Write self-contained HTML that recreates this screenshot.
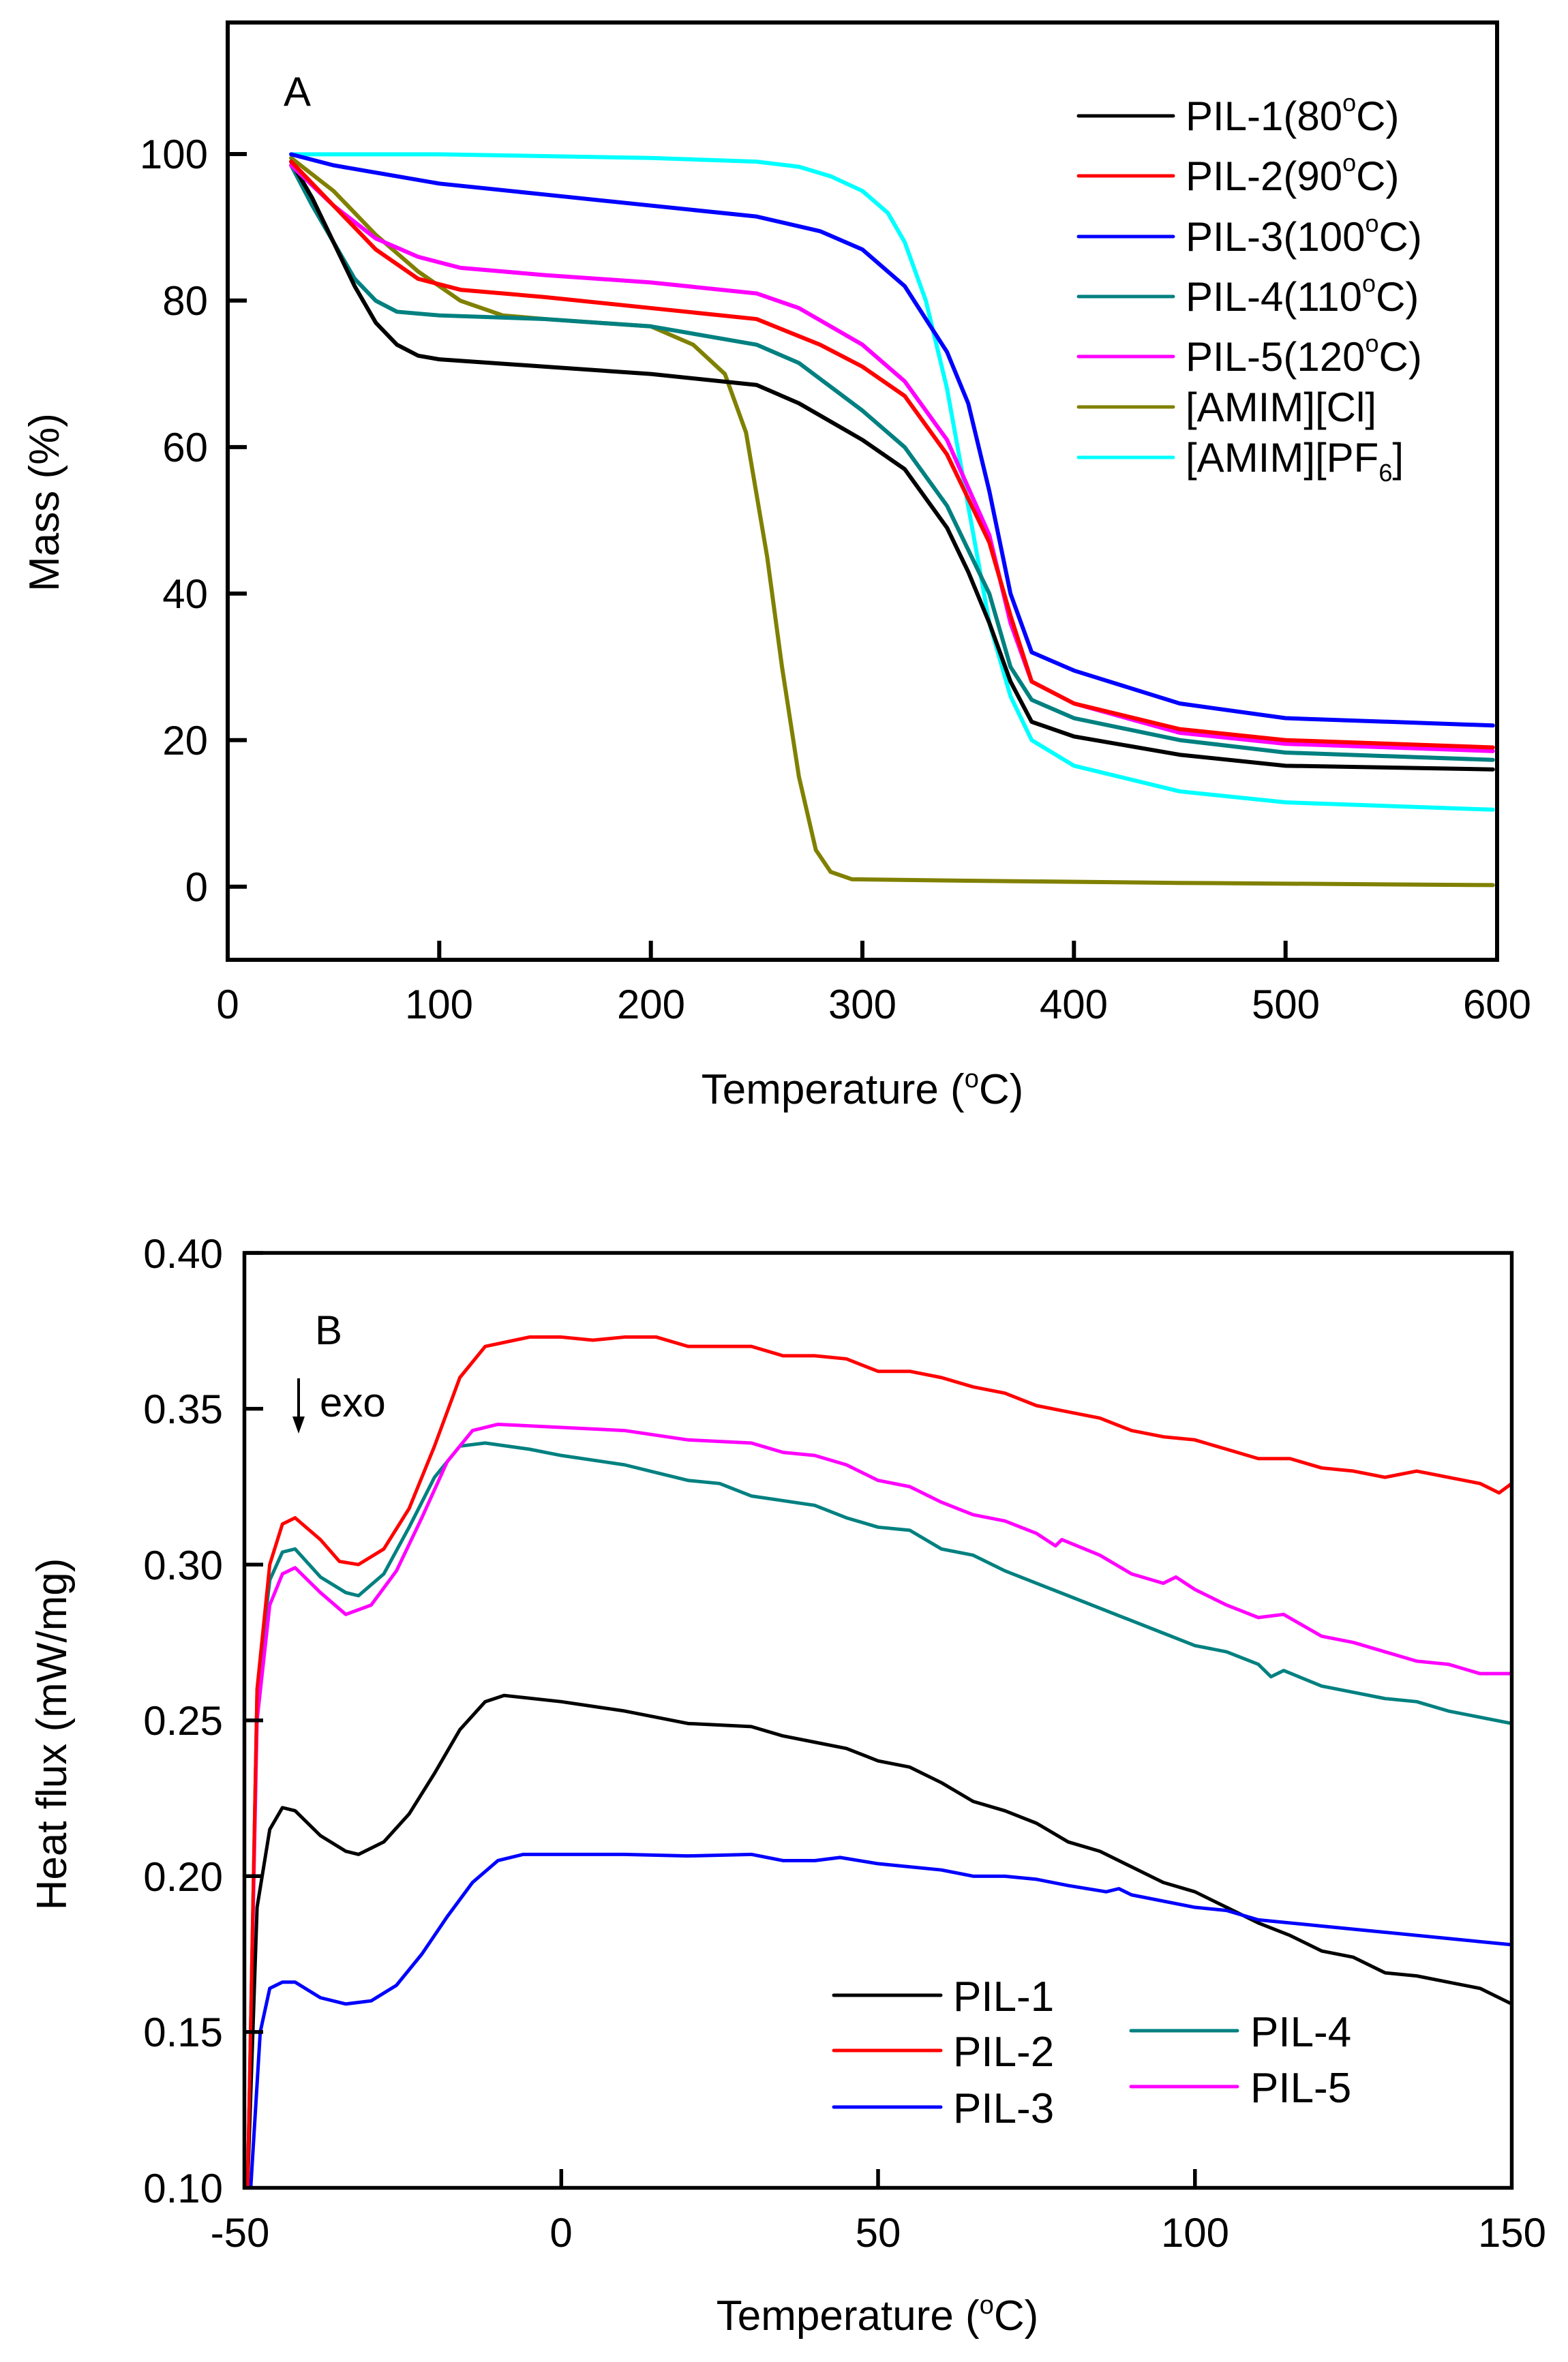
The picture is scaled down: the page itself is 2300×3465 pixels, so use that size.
<!DOCTYPE html>
<html><head><meta charset="utf-8"><style>
html,body{margin:0;padding:0;background:#fff;}
svg{display:block;font-family:"Liberation Sans",Arial,sans-serif;}
</style></head><body>
<svg width="2300" height="3465" viewBox="0 0 2300 3465" xmlns="http://www.w3.org/2000/svg">
<rect width="2300" height="3465" fill="#fff"/>

<!-- ================= TOP PLOT ================= -->
<svg x="334" y="33" width="1862" height="1375" viewBox="0 -118 600 128" preserveAspectRatio="none" overflow="hidden">
<g fill="none" stroke-width="6" stroke-linejoin="round" stroke-linecap="round">
<polyline vector-effect="non-scaling-stroke" stroke="#808000" points="30,-99.5 50,-95 70,-89 90,-84 110,-80 130,-78 150,-77.5 200,-76.5 220,-74 235,-70 245,-62 255,-45 262,-30 270,-15 278,-5 285,-2 295,-1 350,-0.8 450,-0.5 598,-0.2"/>
<polyline vector-effect="non-scaling-stroke" stroke="#00ffff" points="30,-100 100,-100 200,-99.5 250,-99 270,-98.3 285,-97 300,-95 312,-92 320,-88 330,-80 340,-68 350,-52 360,-36 370,-26 380,-20 400,-16.5 450,-13 500,-11.5 598,-10.5"/>
<polyline vector-effect="non-scaling-stroke" stroke="#008080" points="30,-98.5 40,-93 50,-88 60,-83 70,-80 80,-78.5 100,-78 150,-77.5 200,-76.5 250,-74 270,-71.5 300,-65 320,-60 340,-52 360,-40 370,-30 380,-25.5 400,-23 450,-20 500,-18.3 598,-17.3"/>
<polyline vector-effect="non-scaling-stroke" stroke="#000000" points="30,-99 40,-94 50,-88 60,-82 70,-77 80,-74 90,-72.5 100,-72 150,-71 200,-70 250,-68.5 270,-66 300,-61 320,-57 340,-49 350,-43 360,-36 370,-28 380,-22.5 400,-20.5 450,-18 500,-16.5 598,-16"/>
<polyline vector-effect="non-scaling-stroke" stroke="#ff00ff" points="30,-98.5 50,-93 70,-88.5 90,-86 110,-84.5 150,-83.5 200,-82.5 250,-81 270,-79 300,-74 320,-69 340,-61 360,-48 370,-36 380,-28 400,-25 450,-21 500,-19.5 598,-18.5"/>
<polyline vector-effect="non-scaling-stroke" stroke="#ff0000" points="30,-99 50,-93 70,-87 90,-83 110,-81.5 150,-80.5 200,-79 250,-77.5 280,-74 300,-71 320,-67 340,-59 360,-47 370,-37 380,-28 400,-25 450,-21.5 500,-20 598,-19"/>
<polyline vector-effect="non-scaling-stroke" stroke="#0000ff" points="30,-100 50,-98.5 100,-96 150,-94.5 200,-93 250,-91.5 280,-89.5 300,-87 320,-82 340,-73 350,-66 360,-54 370,-40 380,-32 400,-29.5 450,-25 500,-23 598,-22"/>
</g>
</svg>
<rect x="334" y="33" width="1862" height="1375" fill="none" stroke="#000" stroke-width="6"/>
<g stroke="#000" stroke-width="6">
<line x1="334" y1="1300.7" x2="362" y2="1300.7"/>
<line x1="334" y1="1085.8" x2="362" y2="1085.8"/>
<line x1="334" y1="870.8" x2="362" y2="870.8"/>
<line x1="334" y1="655.9" x2="362" y2="655.9"/>
<line x1="334" y1="440.9" x2="362" y2="440.9"/>
<line x1="334" y1="226" x2="362" y2="226"/>
<line x1="644.3" y1="1408" x2="644.3" y2="1380"/>
<line x1="954.7" y1="1408" x2="954.7" y2="1380"/>
<line x1="1265" y1="1408" x2="1265" y2="1380"/>
<line x1="1575.3" y1="1408" x2="1575.3" y2="1380"/>
<line x1="1885.7" y1="1408" x2="1885.7" y2="1380"/>
</g>
<g font-size="60" fill="#000" text-anchor="end">
<text x="305" y="1322">0</text>
<text x="305" y="1107">20</text>
<text x="305" y="892">40</text>
<text x="305" y="677">60</text>
<text x="305" y="462">80</text>
<text x="305" y="247">100</text>
</g>
<g font-size="60" fill="#000" text-anchor="middle">
<text x="334" y="1494">0</text>
<text x="644" y="1494">100</text>
<text x="955" y="1494">200</text>
<text x="1265" y="1494">300</text>
<text x="1575" y="1494">400</text>
<text x="1886" y="1494">500</text>
<text x="2196" y="1494">600</text>
<text x="1265" y="1619" font-size="62">Temperature (<tspan font-size="38" dy="-24">o</tspan><tspan dy="24">C)</tspan></text>
</g>
<text transform="translate(86,737) rotate(-90)" text-anchor="middle" font-size="62" fill="#000">Mass (%)</text>
<text x="416" y="155" font-size="60" fill="#000">A</text>
<g stroke-width="5" stroke-linecap="round">
<line x1="1582" y1="170" x2="1721" y2="170" stroke="#000"/>
<line x1="1582" y1="258" x2="1721" y2="258" stroke="#ff0000"/>
<line x1="1582" y1="347" x2="1721" y2="347" stroke="#0000ff"/>
<line x1="1582" y1="435" x2="1721" y2="435" stroke="#008080"/>
<line x1="1582" y1="523" x2="1721" y2="523" stroke="#ff00ff"/>
<line x1="1582" y1="597" x2="1721" y2="597" stroke="#808000"/>
<line x1="1582" y1="671" x2="1721" y2="671" stroke="#00ffff"/>
</g>
<g font-size="60" fill="#000">
<text x="1739" y="191">PIL-1(80<tspan font-size="36" dy="-28">o</tspan><tspan dy="28">C)</tspan></text>
<text x="1739" y="279">PIL-2(90<tspan font-size="36" dy="-28">o</tspan><tspan dy="28">C)</tspan></text>
<text x="1739" y="368">PIL-3(100<tspan font-size="36" dy="-28">o</tspan><tspan dy="28">C)</tspan></text>
<text x="1739" y="456">PIL-4(110<tspan font-size="36" dy="-28">o</tspan><tspan dy="28">C)</tspan></text>
<text x="1739" y="544">PIL-5(120<tspan font-size="36" dy="-28">o</tspan><tspan dy="28">C)</tspan></text>
<text x="1739" y="618">[AMIM][Cl]</text>
<text x="1739" y="692">[AMIM][PF<tspan font-size="36" dy="14">6</tspan><tspan dy="-14">]</tspan></text>
</g>

<!-- ================= BOTTOM PLOT ================= -->
<svg x="358.5" y="1838" width="1859" height="1371.5" viewBox="-50 -0.40 200 0.30" preserveAspectRatio="none" overflow="hidden">
<g fill="none" stroke-width="5" stroke-linejoin="round" stroke-linecap="round">
<polyline vector-effect="non-scaling-stroke" stroke="#008080" points="-49.5,-0.10 -48,-0.26 -46,-0.295 -44,-0.304 -42,-0.305 -38,-0.296 -34,-0.291 -32,-0.290 -28,-0.297 -24,-0.312 -20,-0.328 -16,-0.338 -12,-0.339 -5,-0.337 0,-0.335 10,-0.332 20,-0.327 25,-0.326 30,-0.322 40,-0.319 45,-0.315 50,-0.312 55,-0.311 60,-0.305 65,-0.303 70,-0.298 80,-0.290 90,-0.282 95,-0.278 100,-0.274 105,-0.272 110,-0.268 112,-0.264 114,-0.266 120,-0.261 125,-0.259 130,-0.257 135,-0.256 140,-0.253 150,-0.249"/>
<polyline vector-effect="non-scaling-stroke" stroke="#ff00ff" points="-49.5,-0.10 -48,-0.25 -46,-0.287 -44,-0.297 -42,-0.299 -38,-0.291 -34,-0.284 -30,-0.287 -26,-0.298 -22,-0.315 -18,-0.333 -14,-0.343 -10,-0.345 0,-0.344 10,-0.343 20,-0.340 30,-0.339 35,-0.336 40,-0.335 45,-0.332 50,-0.327 55,-0.325 60,-0.320 65,-0.316 70,-0.314 75,-0.310 78,-0.306 79,-0.308 85,-0.303 90,-0.297 95,-0.294 97,-0.296 100,-0.292 105,-0.287 110,-0.283 114,-0.284 120,-0.277 125,-0.275 130,-0.272 135,-0.269 140,-0.268 145,-0.265 150,-0.265"/>
<polyline vector-effect="non-scaling-stroke" stroke="#000000" points="-49.5,-0.10 -48,-0.19 -46,-0.215 -44,-0.222 -42,-0.221 -38,-0.213 -34,-0.208 -32,-0.207 -28,-0.211 -24,-0.22 -20,-0.233 -16,-0.247 -12,-0.256 -9,-0.258 0,-0.256 10,-0.253 20,-0.249 30,-0.248 35,-0.245 40,-0.243 45,-0.241 50,-0.237 55,-0.235 60,-0.230 65,-0.224 70,-0.221 75,-0.217 80,-0.211 85,-0.208 90,-0.203 95,-0.198 100,-0.195 105,-0.190 110,-0.185 115,-0.181 120,-0.176 125,-0.174 130,-0.169 135,-0.168 140,-0.166 145,-0.164 150,-0.159"/>
<polyline vector-effect="non-scaling-stroke" stroke="#0000ff" points="-49,-0.10 -47.5,-0.15 -46,-0.164 -44,-0.166 -42,-0.166 -38,-0.161 -34,-0.159 -30,-0.160 -26,-0.165 -22,-0.175 -18,-0.187 -14,-0.198 -10,-0.205 -6,-0.207 0,-0.207 10,-0.207 20,-0.2065 30,-0.207 35,-0.205 40,-0.205 44,-0.206 50,-0.204 60,-0.202 65,-0.200 70,-0.200 75,-0.199 80,-0.197 86,-0.195 88,-0.196 90,-0.194 100,-0.19 105,-0.189 110,-0.186 120,-0.184 130,-0.182 140,-0.18 145,-0.179 150,-0.178"/>
<polyline vector-effect="non-scaling-stroke" stroke="#ff0000" points="-49.5,-0.10 -48,-0.26 -46,-0.30 -44,-0.313 -42,-0.315 -38,-0.308 -35,-0.301 -32,-0.300 -28,-0.305 -24,-0.318 -20,-0.338 -16,-0.360 -12,-0.370 -5,-0.373 0,-0.373 5,-0.372 10,-0.373 15,-0.373 20,-0.370 30,-0.370 35,-0.367 40,-0.367 45,-0.366 50,-0.362 55,-0.362 60,-0.360 65,-0.357 70,-0.355 75,-0.351 80,-0.349 85,-0.347 90,-0.343 95,-0.341 100,-0.340 105,-0.337 110,-0.334 115,-0.334 120,-0.331 125,-0.330 130,-0.328 135,-0.330 140,-0.328 145,-0.326 148,-0.323 150,-0.326"/>
</g>
</svg>
<rect x="358.5" y="1838" width="1859" height="1371.5" fill="none" stroke="#000" stroke-width="5.5"/>
<g stroke="#000" stroke-width="5.5">
<line x1="358.5" y1="1838" x2="386" y2="1838"/>
<line x1="358.5" y1="2066.6" x2="386" y2="2066.6"/>
<line x1="358.5" y1="2295.2" x2="386" y2="2295.2"/>
<line x1="358.5" y1="2523.8" x2="386" y2="2523.8"/>
<line x1="358.5" y1="2752.3" x2="386" y2="2752.3"/>
<line x1="358.5" y1="2980.9" x2="386" y2="2980.9"/>
<line x1="823.3" y1="3209.5" x2="823.3" y2="3182"/>
<line x1="1288" y1="3209.5" x2="1288" y2="3182"/>
<line x1="1752.8" y1="3209.5" x2="1752.8" y2="3182"/>
</g>
<g font-size="60" fill="#000" text-anchor="end">
<text x="327" y="1860">0.40</text>
<text x="327" y="2088">0.35</text>
<text x="327" y="2317">0.30</text>
<text x="327" y="2545">0.25</text>
<text x="327" y="2774">0.20</text>
<text x="327" y="3002">0.15</text>
<text x="327" y="3231">0.10</text>
</g>
<g font-size="60" fill="#000" text-anchor="middle">
<text x="352" y="3296">-50</text>
<text x="823" y="3296">0</text>
<text x="1288" y="3296">50</text>
<text x="1753" y="3296">100</text>
<text x="2218" y="3296">150</text>
<text x="1287" y="3418" font-size="62">Temperature (<tspan font-size="38" dy="-24">o</tspan><tspan dy="24">C)</tspan></text>
</g>
<text transform="translate(97,2544) rotate(-90)" text-anchor="middle" font-size="62" fill="#000">Heat flux (mW/mg)</text>
<text x="462" y="1972" font-size="60" fill="#000">B</text>
<line x1="438" y1="2022" x2="438" y2="2085" stroke="#000" stroke-width="4"/>
<polygon points="429,2078 447,2078 438,2103" fill="#000"/>
<text x="469" y="2078" font-size="60" fill="#000">exo</text>
<g stroke-width="5" stroke-linecap="round">
<line x1="1223" y1="2927" x2="1380" y2="2927" stroke="#000"/>
<line x1="1223" y1="3008" x2="1380" y2="3008" stroke="#ff0000"/>
<line x1="1223" y1="3091" x2="1380" y2="3091" stroke="#0000ff"/>
<line x1="1659" y1="2979" x2="1815" y2="2979" stroke="#008080"/>
<line x1="1659" y1="3061" x2="1815" y2="3061" stroke="#ff00ff"/>
</g>
<g font-size="62" fill="#000">
<text x="1398" y="2950">PIL-1</text>
<text x="1398" y="3031">PIL-2</text>
<text x="1398" y="3114">PIL-3</text>
<text x="1834" y="3002">PIL-4</text>
<text x="1834" y="3084">PIL-5</text>
</g>
</svg>
</body></html>
